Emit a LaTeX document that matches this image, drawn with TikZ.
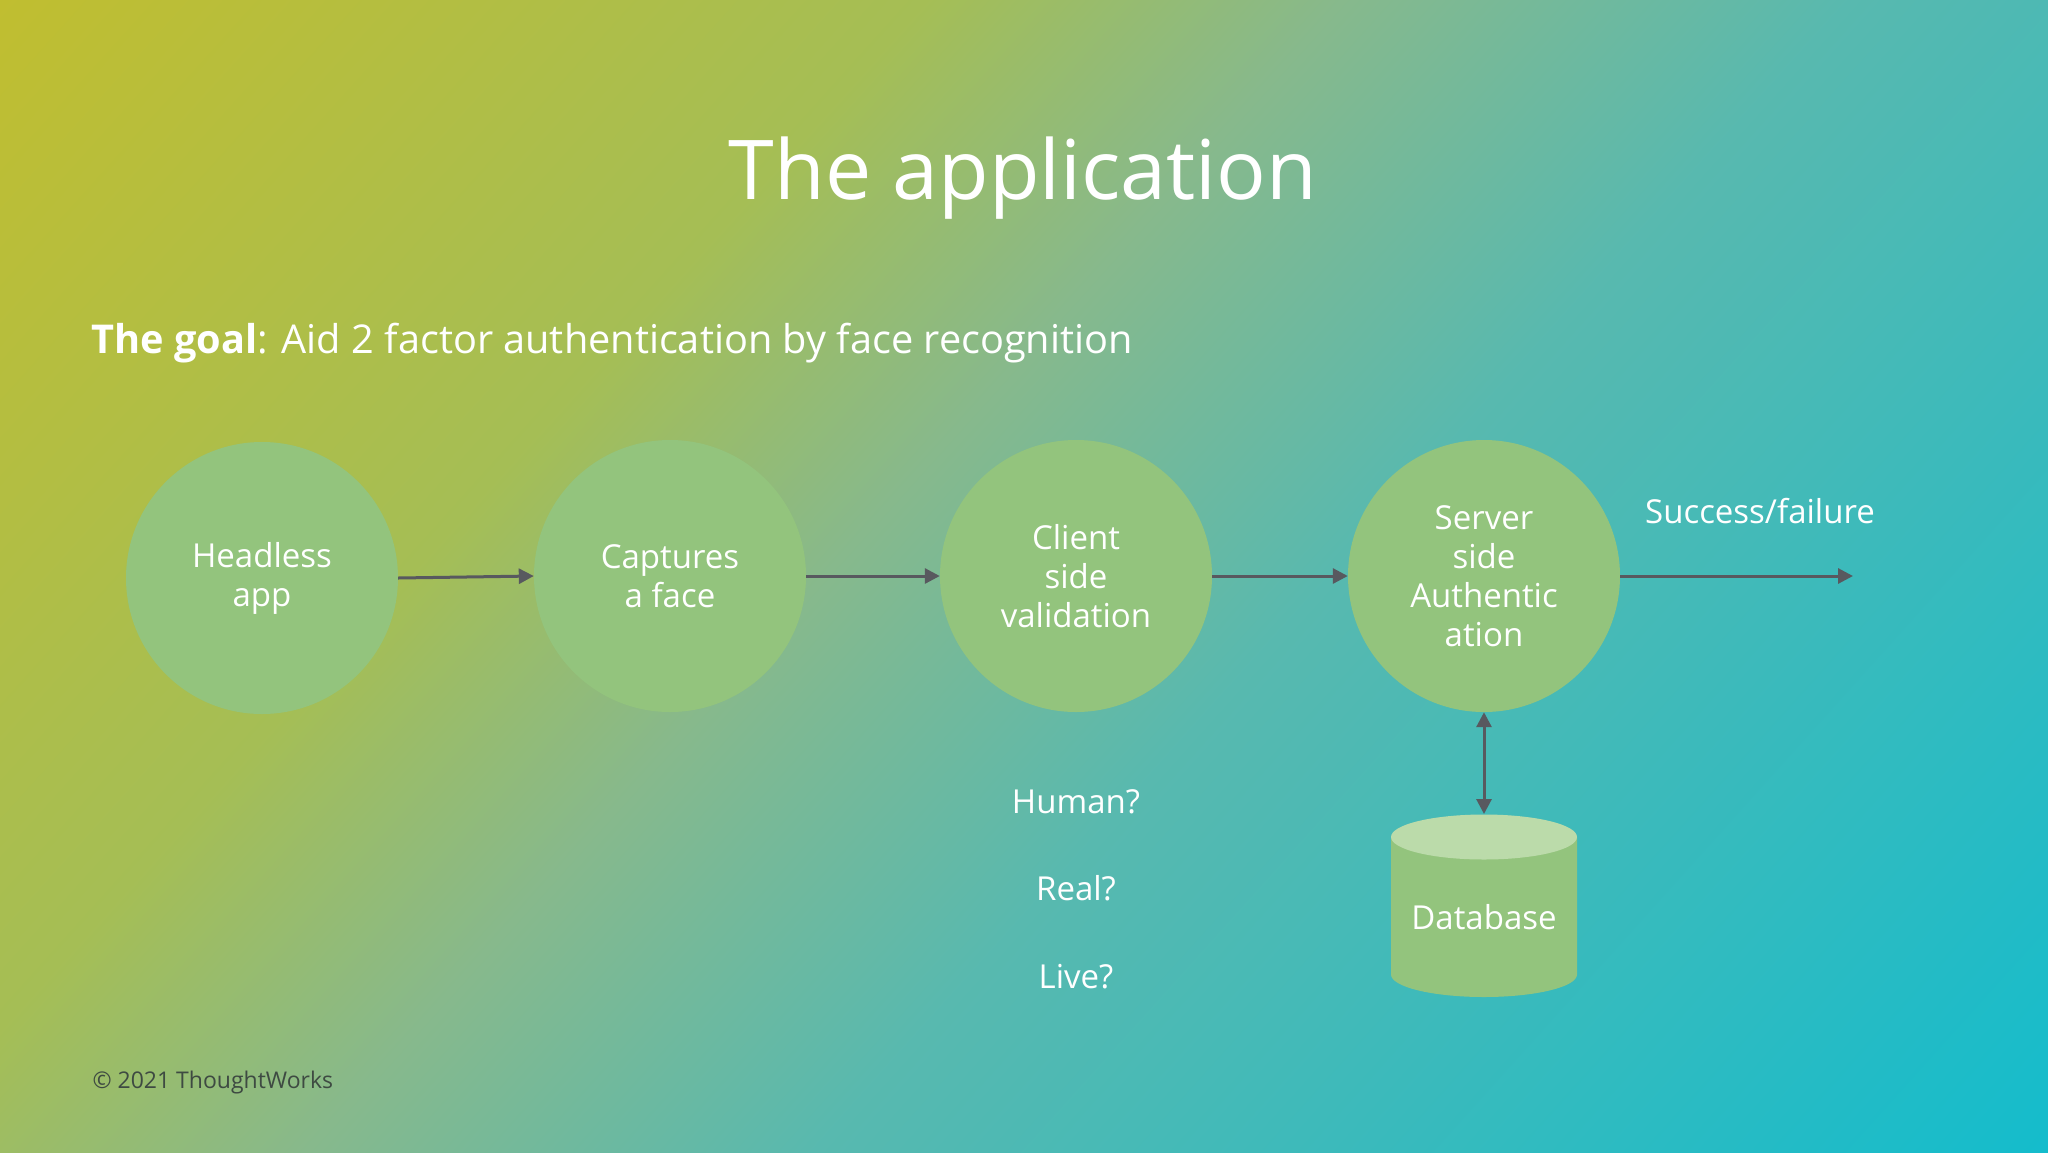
\documentclass[tikz,border=0pt]{standalone}
\usepackage{fontspec}
\setmainfont{Open Sans}
\usetikzlibrary{arrows.meta}
\definecolor{bg0}{HTML}{C0BE30}
\definecolor{bg1}{HTML}{A5BE55}
\definecolor{bg2}{HTML}{87B98C}
\definecolor{bg3}{HTML}{58B9AF}
\definecolor{bg4}{HTML}{14BCCC}
\definecolor{circ}{HTML}{93C47D}
\definecolor{dbtopc}{HTML}{BBDBAA}
\definecolor{arr}{HTML}{58595F}
\definecolor{copyc}{HTML}{3E4A42}
\pgfdeclarehorizontalshading{bgshade}{100bp}{color(0bp)=(bg0); color(25bp)=(bg0); color(40bp)=(bg1); color(46.75bp)=(bg2); color(55bp)=(bg3); color(75bp)=(bg4); color(100bp)=(bg4)}
\tikzset{
  stepcircle/.style={circle, fill=circ, minimum size=272pt, inner sep=0pt, text=white, align=center, font=\fontsize{33}{39}\selectfont},
  flow/.style={draw=arr, line width=3pt, -{Triangle[length=15pt,width=15pt]}},
  biflow/.style={draw=arr, line width=3pt, {Triangle[length=15pt,width=15pt]}-{Triangle[length=15pt,width=15pt]}},
  lbl/.style={text=white, font=\fontsize{33}{39}\selectfont},
}
\begin{document}
\begin{tikzpicture}[x=1pt,y=-1pt]
\useasboundingbox (0,0) rectangle (2048,1152);
\begin{scope}
  \clip (0,0) rectangle (2048,1152);
  \begin{scope}[transform canvas={shift={(1024,576)}, rotate=-42}]
    \shade[shading=bgshade] (-1147,-1300) rectangle (1147,1300);
  \end{scope}
\end{scope}

\node[text=white, font=\fontsize{82.5}{98}\selectfont] (title) at (1023,178) {The application};
\node[text=white, anchor=west, font=\fontsize{39.7}{48}\selectfont] (goal) at (88,343) {\textbf{The goal}: Aid 2 factor authentication by face recognition};

\node[stepcircle] (c1) at (262,578) {Headless\\app};
\node[stepcircle] (c2) at (670,576) {Captures\\a face};
\node[stepcircle] (c3) at (1076,576) {Client\\side\\validation};
\node[stepcircle] (c4) at (1484,576) {Server\\side\\Authentic\\ation};

\coordinate (out) at (1853,576);
\node[lbl] (res) at (1760,511) {Success/failure};

\draw[flow] (c1.east) -- (c2.west);
\draw[flow] (c2.east) -- (c3.west);
\draw[flow] (c3.east) -- (c4.west);
\draw[flow] (c4.east) -- (out);

\node[lbl] (q1) at (1076,802) {Human?};
\node[lbl] (q2) at (1076,888) {Real?};
\node[lbl] (q3) at (1076,977) {Live?};

% database cylinder
\fill[circ] (1391,837) -- (1391,974.5) arc[start angle=180, end angle=0, x radius=93, y radius=22.5] -- (1577,837) -- cycle;
\fill[dbtopc] (1484,837) ellipse [x radius=93, y radius=22.5];
\coordinate (dbtop) at (1484,814);
\node[lbl] (db) at (1484,917) {Database};
\draw[biflow] (c4.south) -- (dbtop);

\node[text=copyc, anchor=west, font=\fontsize{23}{28}\selectfont] (copy) at (89,1083) {© 2021 ThoughtWorks};
\end{tikzpicture}
\end{document}
